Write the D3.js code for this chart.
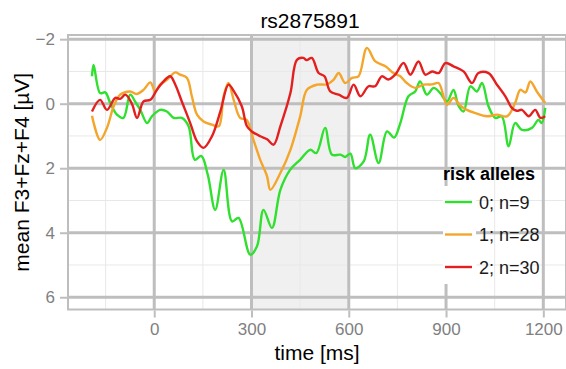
<!DOCTYPE html>
<html>
<head>
<meta charset="utf-8">
<script src="https://cdn.jsdelivr.net/npm/d3@7"></script>
<style>
  body { margin: 0; background: #fff; }
  svg { display: block; font-family: "Liberation Sans", Arial, sans-serif; }
</style>
</head>
<body>
<svg id="chart" width="566" height="369"></svg>
<script>
// Tick values for both axes
const xTicks = [0, 300, 600, 900, 1200];
const xMinor = [-150, 150, 450, 750, 1050];
const yTicks = [-2, 0, 2, 4, 6];
const yMinor = [-1, 1, 3, 5];

// Legend entries, one per risk allele group
const groups = ['0; n=9', '1; n=28', '2; n=30'];
const colors = ['#2fe02f', '#f3a62b', '#e3201f'];

// Grand average waveforms (time in ms, amplitude in µV)
const time0 = [-192, -187, -167, -151, -136, -115, -95, -74, -58, -43, -22, -7, 18, 39, 60, 85, 106, 125, 145, 165,
  188, 214, 240, 260, 296, 317, 337, 363, 389, 419, 450, 481, 500, 527, 548, 574, 589, 605, 620, 646,
  666, 692, 718, 740, 759, 784, 805, 820, 841, 862, 882, 903, 923, 938, 954, 975, 995, 1011, 1031, 1052,
  1072, 1093, 1113, 1134, 1165, 1185, 1195, 1206];
const value0 = [-0.85, -1.2, -0.33, -0.35, -0.03, 0.34, 0.44, -0.28, -0.05, 0.19, 0.6, 0.39, 0.19, 0.24, 0.44, 0.44, 0.7, 1.74, 1.62, 2.2,
  3.29, 2.05, 3.65, 3.54, 4.68, 4.42, 3.29, 3.85, 2.67, 2.05, 1.74, 1.43, 1.53, 0.75, 1.58, 1.58, 1.65, 1.55, 2.0, 1.79,
  0.96, 1.84, 0.86, 1.05, 0.6, -0.23, -0.38, -0.69, -0.28, -0.49, -0.33, -0.07, -0.43, 0.05, 0.24, -0.54, -0.38, -0.64, 0.08, 0.44,
  0.4, 1.32, 0.6, 0.81, 0.75, 0.5, 0.6, 0.13];

const time1 = [-192, -167, -146, -125, -105, -74, -55, -33, -12, 3, 18, 39, 65, 80, 101, 116, 132, 152, 178, 199,
  214, 229, 245, 265, 285, 306, 327, 348, 358, 389, 420, 450, 471, 502, 532, 553, 569, 589, 610, 630,
  656, 682, 713, 738, 759, 779, 805, 831, 857, 877, 903, 923, 943, 964, 990, 1026, 1057, 1088, 1113, 1129,
  1145, 1160, 1180, 1206];
const value1 = [0.37, 1.12, 0.75, 0.08, -0.28, -0.38, -0.3, -0.43, -0.66, -0.38, -0.59, -0.74, -0.97, -0.9, -0.8, -0.23, 0.34, 0.55, 0.65, 0.7,
  -0.23, -0.64, -0.12, 0.44, 0.5, 1.12, 1.74, 2.25, 2.67, 2.15, 1.43, 0.4, -0.43, -0.59, -0.6, -0.74, -0.95, -0.64, -0.8, -0.85,
  -1.73, -1.31, -1.16, -0.95, -0.85, -0.64, -0.49, -0.59, -0.6, -0.64, 0.03, -0.18, 0.05, 0.19, 0.29, 0.39, 0.34, 0.39, -0.02, -0.43,
  -0.35, -0.69, -0.38, -0.02];

const time2 = [-192, -167, -146, -120, -105, -89, -69, -53, -33, -12, 8, 24, 49, 65, 85, 111, 132, 152, 178, 204,
  229, 245, 270, 286, 301, 327, 348, 368, 389, 420, 440, 460, 470, 486, 507, 525, 543, 569, 594, 615,
  636, 661, 681, 702, 722, 743, 769, 790, 815, 836, 857, 877, 898, 923, 954, 980, 1000, 1031, 1057, 1083,
  1103, 1118, 1134, 1155, 1175, 1191, 1206];
const value2 = [0.24, -0.12, 0.19, -0.18, -0.15, -0.28, 0.0, 0.44, -0.07, -0.12, -0.43, -0.64, -0.85, -0.59, -0.07, 0.6, 1.17, 1.37, 1.01, 0.24,
  -0.59, -0.4, 0.08, 0.7, 0.86, 1.01, 1.1, 1.27, 0.7, -0.33, -1.36, -1.42, -1.35, -1.42, -0.95, -0.85, -0.38, -0.28, -0.18, -0.59,
  -0.23, -0.54, -0.54, -0.85, -0.75, -0.9, -1.26, -0.9, -1.31, -0.9, -1.0, -0.95, -1.26, -1.16, -1.0, -0.64, -0.95, -0.95, -0.59, -0.23,
  0.13, 0.22, 0.19, 0.39, 0.19, 0.44, 0.39];

// Time window highlighted in the panel
const windowStart = 300;
const windowEnd = 600;

const series = [
  time0.map((t, i) => ({t: t, v: value0[i]})),
  time1.map((t, i) => ({t: t, v: value1[i]})),
  time2.map((t, i) => ({t: t, v: value2[i]}))
];

const svg = d3.select('#chart');
const panel = {left: 68, right: 566, top: 35, bottom: 309.5};

// Scales, y is reversed (negative up, as usual for ERPs)
const x = d3.scaleLinear().domain([-266, 1270]).range([panel.left, panel.right]);
const y = d3.scaleLinear().domain([-2.13, 6.38]).range([panel.top, panel.bottom]);

const gridColor = '#bebebe';

// Shaded time window
svg.append('rect')
  .attr('x', x(windowStart))
  .attr('y', panel.top)
  .attr('width', x(windowEnd) - x(windowStart))
  .attr('height', panel.bottom - panel.top)
  .attr('fill', '#f0f0f0');

// Minor grid lines
svg.append('g').selectAll('line').data(xMinor).join('line')
  .attr('x1', (d) => x(d)).attr('x2', (d) => x(d))
  .attr('y1', panel.top).attr('y2', panel.bottom)
  .attr('stroke', '#e8e8e8').attr('stroke-width', 1);
svg.append('g').selectAll('line').data(yMinor).join('line')
  .attr('x1', panel.left).attr('x2', panel.right)
  .attr('y1', (d) => y(d)).attr('y2', (d) => y(d))
  .attr('stroke', '#e8e8e8').attr('stroke-width', 1);

// Major grid lines
svg.append('g').selectAll('line').data(xTicks).join('line')
  .attr('x1', (d) => x(d)).attr('x2', (d) => x(d))
  .attr('y1', panel.top).attr('y2', panel.bottom)
  .attr('stroke', gridColor).attr('stroke-width', 3);
svg.append('g').selectAll('line').data(yTicks).join('line')
  .attr('x1', panel.left).attr('x2', panel.right)
  .attr('y1', (d) => y(d)).attr('y2', (d) => y(d))
  .attr('stroke', gridColor).attr('stroke-width', 3);

// Panel border
svg.append('rect')
  .attr('x', panel.left).attr('y', panel.top)
  .attr('width', panel.right - panel.left)
  .attr('height', panel.bottom - panel.top)
  .attr('fill', 'none')
  .attr('stroke', gridColor)
  .attr('stroke-width', 2);

// Axes, drawn with d3 axis generators and then restyled
const xAxis = svg.append('g')
  .attr('transform', 'translate(0,' + (panel.bottom + 1) + ')')
  .call(d3.axisBottom(x).tickValues(xTicks).tickSize(7).tickPadding(5).tickSizeOuter(0)
    .tickFormat(d3.format('d')));
const yAxis = svg.append('g')
  .attr('transform', 'translate(' + (panel.left - 1) + ',0)')
  .call(d3.axisLeft(y).tickValues(yTicks).tickSize(7).tickPadding(5).tickSizeOuter(0)
    .tickFormat((d) => d < 0 ? '\u2212' + Math.abs(d) : d));
for (let axis of [xAxis, yAxis]) {
  axis.select('.domain').remove();
  axis.selectAll('.tick line').attr('stroke', gridColor).attr('stroke-width', 2);
  axis.selectAll('.tick text')
    .attr('fill', '#7f7f7f')
    .style('font-size', '17px')
    .style('font-family', '"Liberation Sans", Arial, sans-serif');
}

// Waveforms
const line = d3.line()
  .x((d) => x(d.t))
  .y((d) => y(d.v))
  .curve(d3.curveCatmullRom.alpha(0.5));
svg.append('g').selectAll('path').data(series).join('path')
  .attr('d', (d) => line(d))
  .attr('fill', 'none')
  .attr('stroke', (d, i) => colors[i])
  .attr('stroke-width', 2.4)
  .attr('stroke-linejoin', 'round');

// Legend, inside the panel, with white key boxes
const legend = svg.append('g').attr('transform', 'translate(443,0)');
legend.append('rect')
  .attr('x', 0).attr('y', 186)
  .attr('width', 33).attr('height', 98)
  .attr('fill', '#fff');
legend.append('text')
  .attr('x', 0).attr('y', 180)
  .style('font-size', '18px')
  .style('font-weight', 'bold')
  .text('risk alleles');
const keyY = d3.scalePoint().domain(groups).range([202, 267]);
const keys = legend.selectAll('g.key').data(groups).join('g')
  .attr('class', 'key')
  .attr('transform', (d) => 'translate(0,' + keyY(d) + ')');
keys.append('line')
  .attr('x1', 2).attr('x2', 29)
  .attr('stroke', (d, i) => colors[i])
  .attr('stroke-width', 2.4);
keys.append('text')
  .attr('x', 36).attr('y', 6.5)
  .style('font-size', '18px')
  .attr('fill', '#1a1a1a')
  .text((d) => d);

// Titles
svg.append('text')
  .attr('x', 310).attr('y', 28)
  .attr('text-anchor', 'middle')
  .style('font-size', '21px')
  .text('rs2875891');
svg.append('text')
  .attr('x', 317).attr('y', 360)
  .attr('text-anchor', 'middle')
  .style('font-size', '21px')
  .text('time [ms]');
svg.append('text')
  .attr('transform', 'translate(29,' + (panel.top + panel.bottom) / 2 + ') rotate(-90)')
  .attr('text-anchor', 'middle')
  .style('font-size', '21px')
  .text('mean F3+Fz+F4 [\u00b5V]');
</script>
</body>
</html>
